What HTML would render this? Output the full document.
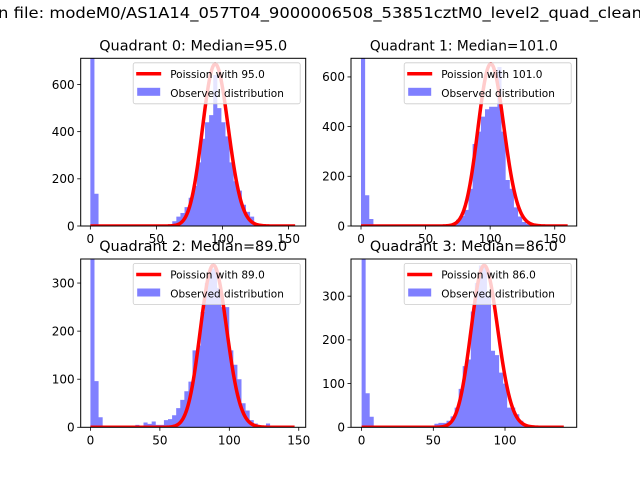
<!DOCTYPE html>
<html><head><meta charset="utf-8"><style>
html,body{margin:0;padding:0;background:#fff;}
svg{display:block;font-family:"DejaVu Sans","Liberation Sans",sans-serif;}
</style></head><body>
<svg id="fig" width="640" height="480" viewBox="0 0 640 480">
<rect width="640" height="480" fill="#fff"/>
<text x="-2" y="18" font-size="15.5" textLength="644" lengthAdjust="spacingAndGlyphs" fill="#000">n file: modeM0/AS1A14_057T04_9000006508_53851cztM0_level2_quad_clean</text>
</svg>
<script>
const titles = ["Quadrant 0: Median=95.0","Quadrant 1: Median=101.0","Quadrant 2: Median=89.0","Quadrant 3: Median=86.0"];
const legendLabels = ["Poission with 95.0","Poission with 101.0","Poission with 89.0","Poission with 86.0"];
const lambdas = [95,101,89,86];
const curvePeaks = [686,652,337,370];
const dataMax = [155,160,147,141];
const yMaxes = [711,675,350,385];
const xMins = [-7.3,-7.75,-7,-7.4];
const xMaxes = [163,167,155,150];
const xTicks0 = [0,50,100,150];
const xTicks1 = [0,50,100,150];
const xTicks2 = [0,50,100,150];
const xTicks3 = [0,50,100];
const yTicks0 = [0,200,400,600];
const yTicks1 = [0,200,400,600];
const yTicks2 = [0,100,200,300];
const yTicks3 = [0,100,200,300];
const counts0 = [1500,137,5,2,0,0,0,0,0,0, 0,0,0,0,0,2,3,5,5,8, 20,40,55,80,120,170,270,370,440,470, 640,500,440,380,270,190,150,90,60,40, 10,5,3,2,1,0,0,0,0,1];
const counts1 = [1500,124,28,5,0,0,0,0,0,0, 0,0,0,0,0,0,0,0,3,3, 5,8,12,25,40,65,150,330,380,440, 470,480,480,640,380,185,150,75,38,16, 8,5,3,2,1,0,0,0,0,1];
const counts2 = [1500,96,21,2,1,0,0,0,2,0, 0,5,0,10,7,12,5,5,15,17, 25,40,57,75,95,160,170,240,300,330, 330,290,250,250,160,130,100,50,35,15, 8,3,0,8,0,0,0,0,0,1];
const counts3 = [1500,78,24,2,0,0,0,0,0,0, 0,0,0,0,0,0,0,0,8,10, 10,15,25,45,88,140,155,265,330,370, 370,300,175,165,125,100,45,45,30,15, 5,5,2,0,0,0,0,0,0,1];

const allCounts=[counts0,counts1,counts2,counts3];
const allX=[xTicks0,xTicks1,xTicks2,xTicks3];
const allY=[yTicks0,yTicks1,yTicks2,yTicks3];
const boxes=[[80.7,58.3,305.7,226],[351,58.3,576.7,226],[80.7,259,305.7,427.3],[351,259,576.7,427.3]];
const NS="http://www.w3.org/2000/svg";
const fig=document.getElementById('fig');
function mk(tag,attrs,parent){const e=document.createElementNS(NS,tag);for(const k in attrs)e.setAttribute(k,attrs[k]);(parent||fig).appendChild(e);return e;}
function lgamma(z){
  if(z<7){let p=1;while(z<7){p*=z;z+=1;}return lgamma(z)-Math.log(p);}
  return (z-0.5)*Math.log(z)-z+0.5*Math.log(2*Math.PI)+1/(12*z)-1/(360*z*z*z);
}
for(let q=0;q<4;q++){
  const [L,T,R,B]=boxes[q];
  const xs=v=>L+(v-xMins[q])/(xMaxes[q]-xMins[q])*(R-L);
  const ys=v=>B-v/yMaxes[q]*(B-T);
  const g=mk('g',{});
  
  
  const cp=mk('clipPath',{id:'clip'+q},g);
  mk('rect',{x:L,y:T,width:R-L,height:B-T},cp);
  const plot=mk('g',{'clip-path':'url(#clip'+q+')'},g);
  const c=allCounts[q];const bw=dataMax[q]/c.length;
  let hd='M'+xs(0).toFixed(2)+','+B;
  c.forEach((v,k)=>{
    const x0=xs(k*bw),x1=xs((k+1)*bw),y=ys(v);
    hd+='L'+x0.toFixed(2)+','+y.toFixed(2)+'L'+x1.toFixed(2)+','+y.toFixed(2);
  });
  hd+='L'+xs(dataMax[q]).toFixed(2)+','+B+'Z';
  const hist=mk('path',{d:hd,fill:'#8080ff',stroke:'none'},plot);
  
  
  const mu=lambdas[q];const lp=mu*Math.log(mu)-mu-lgamma(mu+1);
  let d='';
  for(let i=0;i<=400;i++){const x=dataMax[q]*i/400;const lv=x*Math.log(mu)-mu-lgamma(x+1);const y=curvePeaks[q]*Math.exp(lv-lp);d+=(i?'L':'M')+xs(x).toFixed(2)+','+ys(y).toFixed(2);}
  const pth=mk('path',{d:d,fill:'none',stroke:'#ff0000','stroke-width':3.5,'stroke-linejoin':'round'},plot);
  
  
  const fr=mk('rect',{x:L,y:T,width:R-L,height:B-T,fill:'none',stroke:'#000','stroke-width':1},g);
  
  
  allX[q].forEach(t=>{const x=xs(t);mk('line',{x1:x,x2:x,y1:B,y2:B+3.5,stroke:'#000','stroke-width':0.8},g);
    const tx=mk('text',{x:x,y:B+17,'font-size':12,'text-anchor':'middle',fill:'#000'},g);tx.textContent=t;
    
    });
  allY[q].forEach(t=>{const y=ys(t);mk('line',{x1:L-3.5,x2:L,y1:y,y2:y,stroke:'#000','stroke-width':0.8},g);
    const tx=mk('text',{x:L-6,y:y+4.3,'font-size':12,'text-anchor':'end',fill:'#000'},g);tx.textContent=t;
    
    });
  const ti=mk('text',{x:(L+R)/2,y:T-8,'font-size':14.5,'text-anchor':'middle',textLength:188,lengthAdjust:'spacingAndGlyphs',fill:'#000'},g);
  ti.textContent=titles[q];
  
  
  const lg=mk('g',{},g);
  
  
  const lx=R-172.5,ly=T+4.5;
  mk('rect',{x:lx,y:ly,width:167,height:41,rx:2,fill:'#fff','fill-opacity':0.8,stroke:'#ccc','stroke-width':0.8},lg);
  mk('line',{x1:lx+3,x2:lx+28,y1:ly+11,y2:ly+11,stroke:'#ff0000','stroke-width':3.5},lg);
  const t1=mk('text',{x:lx+37,y:ly+15,'font-size':10.5,fill:'#000'},lg);t1.textContent=legendLabels[q];
  
  
  mk('rect',{x:lx+4,y:ly+25,width:23,height:8,fill:'#0000ff','fill-opacity':0.5},lg);
  const t2=mk('text',{x:lx+37,y:ly+34,'font-size':10.5,fill:'#000'},lg);t2.textContent='Observed distribution';
  
  
}
</script>
</body></html>
